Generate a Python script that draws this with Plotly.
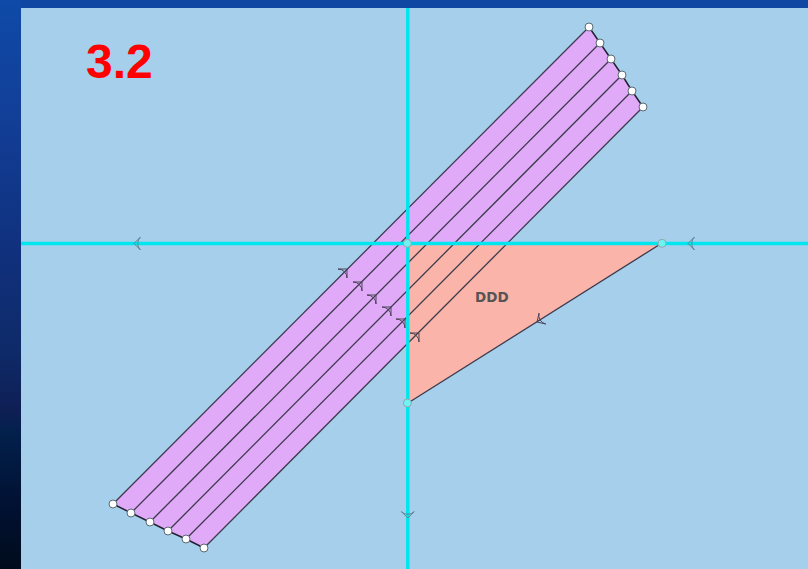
import plotly.graph_objects as go

# Values (origin at the crossing of the cyan axes, y upward)
band_top_x = [182, 193, 204, 215, 225, 236]
band_top_y = [216, 200, 184, 168, 152, 136]
band_bot_x = [-294, -276, -257, -239, -221, -203]
band_bot_y = [-261, -270, -279, -288, -296, -305]
tri_x = [1, 255, 1]
tri_y = [0, 0, -160]
axis_h_x = [-386, 401]
axis_h_y = [-0.5, -0.5]
axis_v_x = [0.8, 0.8]
axis_v_y = [235, -326]
arrow_x = [-60, -45, -31, -16, -2, 12]
arrow_y = [-26, -39, -52, -64, -76, -90]
axis_arrow_x = [-273, 281, 0.8]
axis_arrow_y = [-0.5, -0.5, -275]
axis_arrow_angle = [-90, -90, 180]
hyp_arrow_x = [130]
hyp_arrow_y = [-79]
hyp_arrow_angle = [238]
axis_pts_x = [0.4, 255, 0.4]
axis_pts_y = [-0.3, -0.3, -160]
title_text = "3.2"
label_text = "DDD"
frame_left_x = [-407, -386, -386, -407]
frame_left_y = [243, 243, -326, -326]
frame_top_x = [-407, 401, 401, -407]
frame_top_y = [243, 243, 235, 235]
grad_stops = [(0.0, "#0f4aa8"), (0.2, "#123f98"), (0.45, "#10307c"), (0.62, "#0e2a68"), (0.72, "#0f1f55"), (0.76, "#02204c"), (0.9, "#011030"), (1.0, "#000c1c")]

BG = "#a6cfeb"
PURPLE = "#e0aaf9"
SALMON = "#fbb4a9"
CYAN = "#00e6ee"
EDGE = "#3c3a4c"

fig = go.Figure()

fig.add_trace(go.Scatter(x=band_top_x + band_bot_x[::-1], y=band_top_y + band_bot_y[::-1],
                         mode="lines", fill="toself", fillcolor=PURPLE, line=dict(width=0), hoverinfo="skip"))
fig.add_trace(go.Scatter(x=tri_x + tri_x[:1], y=tri_y + tri_y[:1], mode="lines", fill="toself",
                         fillcolor=SALMON, line=dict(width=0), hoverinfo="skip"))
for tx, ty, bx, by in zip(band_top_x, band_top_y, band_bot_x, band_bot_y):
    fig.add_trace(go.Scatter(x=[bx, tx], y=[by, ty], mode="lines", line=dict(color=EDGE, width=1.3), hoverinfo="skip"))
fig.add_trace(go.Scatter(x=band_top_x, y=band_top_y, mode="lines", line=dict(color="#222230", width=1.5), hoverinfo="skip"))
fig.add_trace(go.Scatter(x=band_bot_x, y=band_bot_y, mode="lines", line=dict(color="#222230", width=1.5), hoverinfo="skip"))
fig.add_trace(go.Scatter(x=tri_x[1:], y=tri_y[1:], mode="lines", line=dict(color=EDGE, width=1.3), hoverinfo="skip"))
fig.add_trace(go.Scatter(x=arrow_x, y=arrow_y, mode="markers",
                         marker=dict(symbol="arrow-wide-open", size=9, angle=45, color="#4a4458",
                                     line=dict(color="#4a4458", width=1)), hoverinfo="skip"))
fig.add_trace(go.Scatter(x=hyp_arrow_x, y=hyp_arrow_y, mode="markers",
                         marker=dict(symbol="arrow-wide-open", size=9, angle=hyp_arrow_angle, color="#4a4458",
                                     line=dict(color="#4a4458", width=1)), hoverinfo="skip"))
fig.add_trace(go.Scatter(x=axis_h_x, y=axis_h_y, mode="lines", line=dict(color=CYAN, width=3.5), hoverinfo="skip"))
fig.add_trace(go.Scatter(x=axis_v_x, y=axis_v_y, mode="lines", line=dict(color=CYAN, width=3.5), hoverinfo="skip"))
fig.add_trace(go.Scatter(x=axis_arrow_x, y=axis_arrow_y, mode="markers",
                         marker=dict(symbol="arrow-wide-open", size=9, angle=axis_arrow_angle, color="#5f7f90",
                                     line=dict(color="#5f7f90", width=1)), hoverinfo="skip"))
fig.add_trace(go.Scatter(x=axis_pts_x, y=axis_pts_y, mode="markers",
                         marker=dict(symbol="circle", size=8, color="#6ff2f2", line=dict(color="#93a8ae", width=1)), hoverinfo="skip"))
fig.add_trace(go.Scatter(x=band_top_x + band_bot_x, y=band_top_y + band_bot_y, mode="markers",
                         marker=dict(size=8, color="#ffffff", line=dict(color="#5a6a70", width=1)), hoverinfo="skip"))
fig.add_trace(go.Scatter(x=frame_top_x + frame_top_x[:1], y=frame_top_y + frame_top_y[:1], mode="lines", fill="toself",
                         fillcolor="#0f47a3", line=dict(width=0), hoverinfo="skip"))
fig.add_trace(go.Scatter(x=frame_left_x + frame_left_x[:1], y=frame_left_y + frame_left_y[:1], mode="lines", fill="toself",
                         fillgradient=dict(type="vertical", colorscale=[[1 - s, c] for s, c in grad_stops][::-1]),
                         line=dict(width=0), hoverinfo="skip"))

fig.add_annotation(x=-288, y=181.5, text=f"<b>{title_text}</b>", showarrow=False,
                   font=dict(family="Liberation Sans", size=48, color="#ff0000"))
fig.add_annotation(x=85, y=-54, text=f"<b>{label_text}</b>", showarrow=False,
                   font=dict(family="DejaVu Sans", size=13.5, color="#555555"))

fig.update_layout(width=808, height=569, margin=dict(l=0, r=0, t=0, b=0), showlegend=False,
                  plot_bgcolor=BG, paper_bgcolor=BG,
                  xaxis=dict(range=[-407, 401], visible=False, fixedrange=True),
                  yaxis=dict(range=[-326, 243], visible=False, fixedrange=True))
fig.write_html("out.html", config={"displayModeBar": False},
               post_script="document.body.style.margin='0';document.documentElement.style.overflow='hidden';")
